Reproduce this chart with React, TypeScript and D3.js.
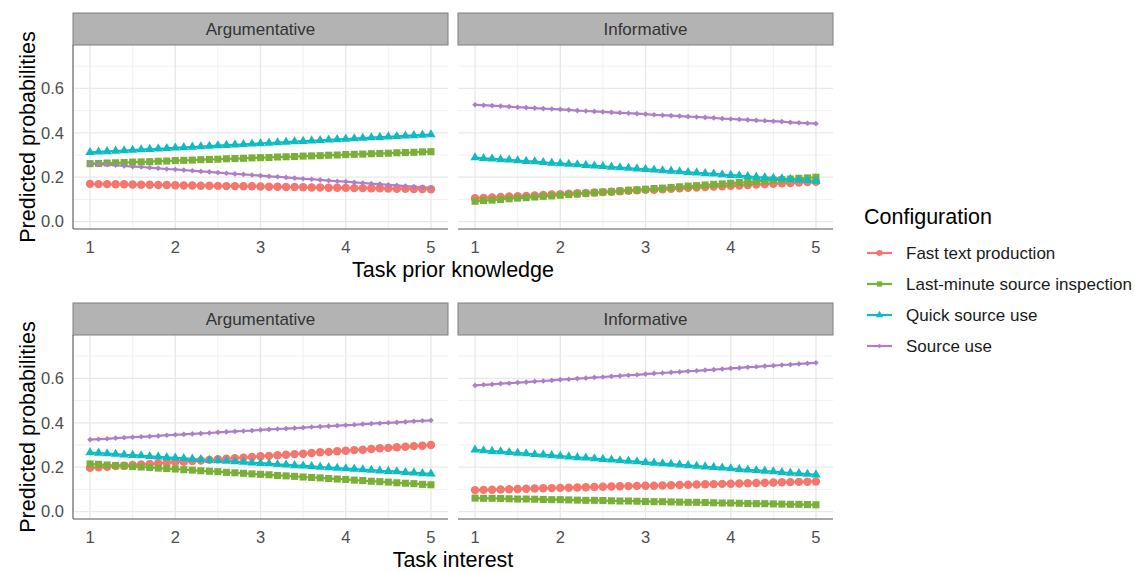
import React, { useEffect, useRef } from 'react';
import * as d3 from 'd3';

const configurations = ['Fast text production', 'Last-minute source inspection', 'Quick source use', 'Source use'];
const colors = ['#F5766D', '#7AB03A', '#0DBCC3', '#AD7FC8'];
const tasks = ['Argumentative', 'Informative'];
const xTitles = ['Task prior knowledge', 'Task interest'];

const xSteps = [1, 1.1, 1.2, 1.3, 1.4, 1.5, 1.6, 1.7, 1.8, 1.9, 2, 2.1, 2.2, 2.3, 2.4, 2.5, 2.6, 2.7, 2.8, 2.9, 3,
    3.1, 3.2, 3.3, 3.4, 3.5, 3.6, 3.7, 3.8, 3.9, 4, 4.1, 4.2, 4.3, 4.4, 4.5, 4.6, 4.7, 4.8, 4.9, 5];

const xTicks = [1, 2, 3, 4, 5];
const xMinor = [1.5, 2.5, 3.5, 4.5];
const yTicks = [0, 0.2, 0.4, 0.6];
const yMinor = [0.1, 0.3, 0.5, 0.7];

// Task prior knowledge - Argumentative
const tpkArgFast = [0.170, 0.169, 0.169, 0.168, 0.168, 0.167, 0.166, 0.166, 0.165, 0.165, 0.164, 0.163, 0.163, 0.162, 0.162, 0.161, 0.160, 0.160, 0.159, 0.159, 0.158,
    0.157, 0.157, 0.156, 0.156, 0.155, 0.154, 0.154, 0.153, 0.153, 0.152, 0.151, 0.151, 0.150, 0.150, 0.149, 0.148, 0.148, 0.147, 0.147, 0.146];
const tpkArgLast = [0.261, 0.262, 0.264, 0.265, 0.266, 0.268, 0.269, 0.270, 0.272, 0.273, 0.275, 0.276, 0.277, 0.279, 0.280, 0.281, 0.283, 0.284, 0.285, 0.287, 0.288,
    0.289, 0.291, 0.292, 0.293, 0.295, 0.296, 0.297, 0.299, 0.300, 0.302, 0.303, 0.304, 0.306, 0.307, 0.308, 0.310, 0.311, 0.312, 0.314, 0.315];
const tpkArgQuick = [0.312, 0.314, 0.316, 0.318, 0.320, 0.322, 0.324, 0.326, 0.328, 0.330, 0.332, 0.334, 0.336, 0.338, 0.340, 0.342, 0.344, 0.346, 0.348, 0.350, 0.352,
    0.354, 0.356, 0.358, 0.360, 0.362, 0.364, 0.366, 0.368, 0.370, 0.372, 0.374, 0.376, 0.378, 0.380, 0.382, 0.384, 0.386, 0.388, 0.390, 0.392];
const tpkArgSource = [0.262, 0.259, 0.257, 0.254, 0.251, 0.248, 0.246, 0.243, 0.240, 0.237, 0.235, 0.232, 0.229, 0.226, 0.224, 0.221, 0.218, 0.215, 0.213, 0.210, 0.207,
    0.204, 0.202, 0.199, 0.196, 0.193, 0.191, 0.188, 0.185, 0.182, 0.180, 0.177, 0.174, 0.171, 0.169, 0.166, 0.163, 0.160, 0.158, 0.155, 0.152];

// Task prior knowledge - Informative
const tpkInfFast = [0.105, 0.107, 0.109, 0.111, 0.113, 0.114, 0.116, 0.118, 0.120, 0.122, 0.124, 0.126, 0.128, 0.129, 0.131, 0.133, 0.135, 0.137, 0.139, 0.141, 0.143,
    0.144, 0.146, 0.148, 0.150, 0.152, 0.154, 0.156, 0.158, 0.159, 0.161, 0.163, 0.165, 0.167, 0.169, 0.171, 0.173, 0.174, 0.176, 0.178, 0.180];
const tpkInfLast = [0.092, 0.095, 0.097, 0.100, 0.103, 0.106, 0.108, 0.111, 0.114, 0.116, 0.119, 0.122, 0.124, 0.127, 0.130, 0.133, 0.135, 0.138, 0.141, 0.143, 0.146,
    0.149, 0.151, 0.154, 0.157, 0.160, 0.162, 0.165, 0.168, 0.170, 0.173, 0.176, 0.178, 0.181, 0.184, 0.187, 0.189, 0.192, 0.195, 0.197, 0.200];
const tpkInfQuick = [0.288, 0.285, 0.283, 0.280, 0.278, 0.275, 0.272, 0.270, 0.267, 0.264, 0.262, 0.259, 0.257, 0.254, 0.251, 0.249, 0.246, 0.243, 0.241, 0.238, 0.236,
    0.233, 0.230, 0.228, 0.225, 0.222, 0.220, 0.217, 0.215, 0.212, 0.209, 0.207, 0.204, 0.201, 0.199, 0.196, 0.194, 0.191, 0.188, 0.186, 0.183];
const tpkInfSource = [0.526, 0.524, 0.522, 0.520, 0.518, 0.515, 0.513, 0.511, 0.509, 0.507, 0.505, 0.503, 0.500, 0.498, 0.496, 0.494, 0.492, 0.490, 0.488, 0.486, 0.484,
    0.481, 0.479, 0.477, 0.475, 0.473, 0.471, 0.469, 0.467, 0.464, 0.462, 0.460, 0.458, 0.456, 0.454, 0.452, 0.450, 0.447, 0.445, 0.443, 0.441];

// Task interest - Argumentative
const tiArgFast = [0.197, 0.200, 0.202, 0.205, 0.207, 0.210, 0.212, 0.215, 0.218, 0.220, 0.223, 0.225, 0.228, 0.230, 0.233, 0.236, 0.238, 0.241, 0.243, 0.246, 0.249,
    0.251, 0.254, 0.256, 0.259, 0.261, 0.264, 0.267, 0.269, 0.272, 0.274, 0.277, 0.279, 0.282, 0.285, 0.287, 0.290, 0.292, 0.295, 0.297, 0.300];
const tiArgLast = [0.215, 0.213, 0.210, 0.208, 0.206, 0.203, 0.201, 0.199, 0.196, 0.194, 0.192, 0.189, 0.187, 0.184, 0.182, 0.180, 0.177, 0.175, 0.173, 0.170, 0.168,
    0.166, 0.163, 0.161, 0.159, 0.156, 0.154, 0.152, 0.149, 0.147, 0.145, 0.142, 0.140, 0.137, 0.135, 0.133, 0.130, 0.128, 0.126, 0.123, 0.121];
const tiArgQuick = [0.266, 0.264, 0.261, 0.259, 0.256, 0.254, 0.252, 0.249, 0.247, 0.244, 0.242, 0.240, 0.237, 0.235, 0.232, 0.230, 0.228, 0.225, 0.223, 0.220, 0.218,
    0.216, 0.213, 0.211, 0.208, 0.206, 0.204, 0.201, 0.199, 0.196, 0.194, 0.192, 0.189, 0.187, 0.184, 0.182, 0.180, 0.177, 0.175, 0.172, 0.170];
const tiArgSource = [0.324, 0.326, 0.328, 0.331, 0.333, 0.335, 0.337, 0.339, 0.341, 0.344, 0.346, 0.348, 0.350, 0.352, 0.354, 0.357, 0.359, 0.361, 0.363, 0.365, 0.368,
    0.370, 0.372, 0.374, 0.376, 0.378, 0.381, 0.383, 0.385, 0.387, 0.389, 0.391, 0.394, 0.396, 0.398, 0.400, 0.402, 0.404, 0.407, 0.409, 0.411];

// Task interest - Informative
const tiInfFast = [0.097, 0.098, 0.099, 0.100, 0.101, 0.102, 0.103, 0.104, 0.105, 0.106, 0.107, 0.108, 0.109, 0.110, 0.111, 0.112, 0.113, 0.114, 0.115, 0.116, 0.117,
    0.117, 0.118, 0.119, 0.120, 0.121, 0.122, 0.123, 0.124, 0.125, 0.126, 0.127, 0.128, 0.129, 0.130, 0.131, 0.132, 0.133, 0.134, 0.135, 0.136];
const tiInfLast = [0.061, 0.060, 0.060, 0.059, 0.058, 0.057, 0.057, 0.056, 0.055, 0.054, 0.054, 0.053, 0.052, 0.051, 0.051, 0.050, 0.049, 0.048, 0.048, 0.047, 0.046,
    0.045, 0.045, 0.044, 0.043, 0.042, 0.042, 0.041, 0.040, 0.039, 0.039, 0.038, 0.037, 0.036, 0.036, 0.035, 0.034, 0.033, 0.033, 0.032, 0.031];
const tiInfQuick = [0.278, 0.275, 0.272, 0.270, 0.267, 0.264, 0.261, 0.258, 0.256, 0.253, 0.250, 0.247, 0.244, 0.242, 0.239, 0.236, 0.233, 0.230, 0.228, 0.225, 0.222,
    0.219, 0.216, 0.214, 0.211, 0.208, 0.205, 0.202, 0.200, 0.197, 0.194, 0.191, 0.188, 0.186, 0.183, 0.180, 0.177, 0.174, 0.172, 0.169, 0.166];
const tiInfSource = [0.568, 0.571, 0.573, 0.576, 0.578, 0.581, 0.583, 0.586, 0.588, 0.591, 0.594, 0.596, 0.599, 0.601, 0.604, 0.606, 0.609, 0.611, 0.614, 0.616, 0.619,
    0.622, 0.624, 0.627, 0.629, 0.632, 0.634, 0.637, 0.639, 0.642, 0.645, 0.647, 0.650, 0.652, 0.655, 0.657, 0.660, 0.662, 0.665, 0.667, 0.670];

const rows = [
    [[tpkArgFast, tpkArgLast, tpkArgQuick, tpkArgSource], [tpkInfFast, tpkInfLast, tpkInfQuick, tpkInfSource]],
    [[tiArgFast, tiArgLast, tiArgQuick, tiArgSource], [tiInfFast, tiInfLast, tiInfQuick, tiInfSource]]
];

const FONT = '"Liberation Sans", Arial, Helvetica, sans-serif';

export default function App() {
    const svgRef = useRef(null);

    const width = 1135;
    const height = 571;
    const panelLeft = [73, 458];
    const panelW = 375;
    const stripTop = [13, 303];
    const stripH = 32;
    const panelH = 184;

    const symbolFor = (i) => {
        if (i === 0) return d3.symbol().type(d3.symbolCircle).size(56);
        if (i === 1) return d3.symbol().type(d3.symbolSquare).size(50);
        if (i === 2) return d3.symbol().type(d3.symbolTriangle).size(38);
        return d3.symbol().type(d3.symbolSquare).size(16);
    };

    useEffect(() => {
        const svg = d3.select(svgRef.current);
        svg.selectAll('*').remove();

        rows.forEach((row, r) => {
            const top = stripTop[r] + stripH;
            const bottom = top + panelH;

            const y = d3.scaleLinear().domain([-0.033, 0.795]).range([bottom, top]);

            row.forEach((series, p) => {
                const left = panelLeft[p];
                const x = d3.scaleLinear().domain([0.8, 5.2]).range([left, left + panelW]);
                const g = svg.append('g');

                // grid
                g.selectAll('.ymin').data(yMinor).enter().append('line')
                    .attr('x1', left).attr('x2', left + panelW)
                    .attr('y1', d => y(d)).attr('y2', d => y(d))
                    .attr('stroke', '#EBEBEB').attr('stroke-width', 0.7);
                g.selectAll('.xmin').data(xMinor).enter().append('line')
                    .attr('y1', top).attr('y2', bottom)
                    .attr('x1', d => x(d)).attr('x2', d => x(d))
                    .attr('stroke', '#EBEBEB').attr('stroke-width', 0.7);
                g.selectAll('.ymaj').data(yTicks).enter().append('line')
                    .attr('x1', left).attr('x2', left + panelW)
                    .attr('y1', d => y(d)).attr('y2', d => y(d))
                    .attr('stroke', '#E8E8E8').attr('stroke-width', 1.3);
                g.selectAll('.xmaj').data(xTicks).enter().append('line')
                    .attr('y1', top).attr('y2', bottom)
                    .attr('x1', d => x(d)).attr('x2', d => x(d))
                    .attr('stroke', '#E8E8E8').attr('stroke-width', 1.3);

                // strip
                g.append('rect')
                    .attr('x', left).attr('y', stripTop[r])
                    .attr('width', panelW).attr('height', stripH)
                    .attr('fill', '#B3B3B3').attr('stroke', '#7F7F7F').attr('stroke-width', 1);
                g.append('text')
                    .attr('x', left + panelW / 2).attr('y', stripTop[r] + stripH / 2)
                    .attr('dy', '0.35em').attr('text-anchor', 'middle')
                    .style('font-family', FONT).style('font-size', '17px')
                    .attr('fill', '#333333').text(tasks[p]);

                // axis lines
                g.append('line')
                    .attr('x1', left).attr('x2', left + panelW)
                    .attr('y1', bottom).attr('y2', bottom)
                    .attr('stroke', '#555555').attr('stroke-width', 1.1);
                if (p === 0) {
                    g.append('line')
                        .attr('x1', left).attr('x2', left)
                        .attr('y1', top).attr('y2', bottom)
                        .attr('stroke', '#555555').attr('stroke-width', 1.1);
                    g.selectAll('.ylab').data(yTicks).enter().append('text')
                        .attr('x', left - 9).attr('y', d => y(d)).attr('dy', '0.35em')
                        .attr('text-anchor', 'end')
                        .style('font-family', FONT).style('font-size', '16.5px')
                        .attr('fill', '#4D4D4D').text(d => d.toFixed(1));
                }
                g.selectAll('.xlab').data(xTicks).enter().append('text')
                    .attr('x', d => x(d)).attr('y', bottom + 24)
                    .attr('text-anchor', 'middle')
                    .style('font-family', FONT).style('font-size', '16.5px')
                    .attr('fill', '#4D4D4D').text(d => d);

                // lines
                const line = d3.line().x((d, i) => x(xSteps[i])).y(d => y(d));
                series.forEach((vals, s) => {
                    g.append('path')
                        .datum(vals)
                        .attr('d', line)
                        .attr('fill', 'none')
                        .attr('stroke', colors[s])
                        .attr('stroke-width', 2.2);
                });

                // points
                series.forEach((vals, s) => {
                    g.append('g').selectAll('path').data(vals).enter().append('path')
                        .attr('d', symbolFor(s))
                        .attr('transform', (d, i) => `translate(${x(xSteps[i])},${y(d)})` + (s === 3 ? ' rotate(45)' : ''))
                        .attr('fill', colors[s]);
                });
            });

            // y title
            svg.append('text')
                .attr('transform', `translate(35, ${(top + bottom) / 2}) rotate(-90)`)
                .attr('text-anchor', 'middle')
                .style('font-family', FONT).style('font-size', '21.5px')
                .attr('fill', '#000').text('Predicted probabilities');

            // x title
            svg.append('text')
                .attr('x', (panelLeft[0] + panelLeft[1] + panelW) / 2).attr('y', bottom + 48)
                .attr('text-anchor', 'middle')
                .style('font-family', FONT).style('font-size', '21.5px')
                .attr('fill', '#000').text(xTitles[r]);
        });

        // legend
        const lg = svg.append('g');
        lg.append('text')
            .attr('x', 864).attr('y', 224)
            .style('font-family', FONT).style('font-size', '21.5px')
            .attr('fill', '#000').text('Configuration');

        const legendSymbol = (i) => {
            if (i === 0) return d3.symbol().type(d3.symbolCircle).size(30);
            if (i === 1) return d3.symbol().type(d3.symbolSquare).size(28);
            if (i === 2) return d3.symbol().type(d3.symbolTriangle).size(24);
            return d3.symbol().type(d3.symbolSquare).size(11);
        };

        configurations.forEach((c, i) => {
            const cy = 253 + i * 31;
            lg.append('line')
                .attr('x1', 867).attr('x2', 892)
                .attr('y1', cy).attr('y2', cy)
                .attr('stroke', colors[i]).attr('stroke-width', 2.2);
            lg.append('path')
                .attr('d', legendSymbol(i))
                .attr('transform', `translate(879.5,${cy})` + (i === 3 ? ' rotate(45)' : ''))
                .attr('fill', colors[i]);
            lg.append('text')
                .attr('x', 906).attr('y', cy).attr('dy', '0.35em')
                .style('font-family', FONT).style('font-size', '17px')
                .attr('fill', '#1A1A1A').text(c);
        });
    }, []);

    return (
        <svg ref={svgRef} width={width} height={height}
            style={{ position: 'absolute', left: 0, top: 0, background: '#fff' }}></svg>
    );
}
